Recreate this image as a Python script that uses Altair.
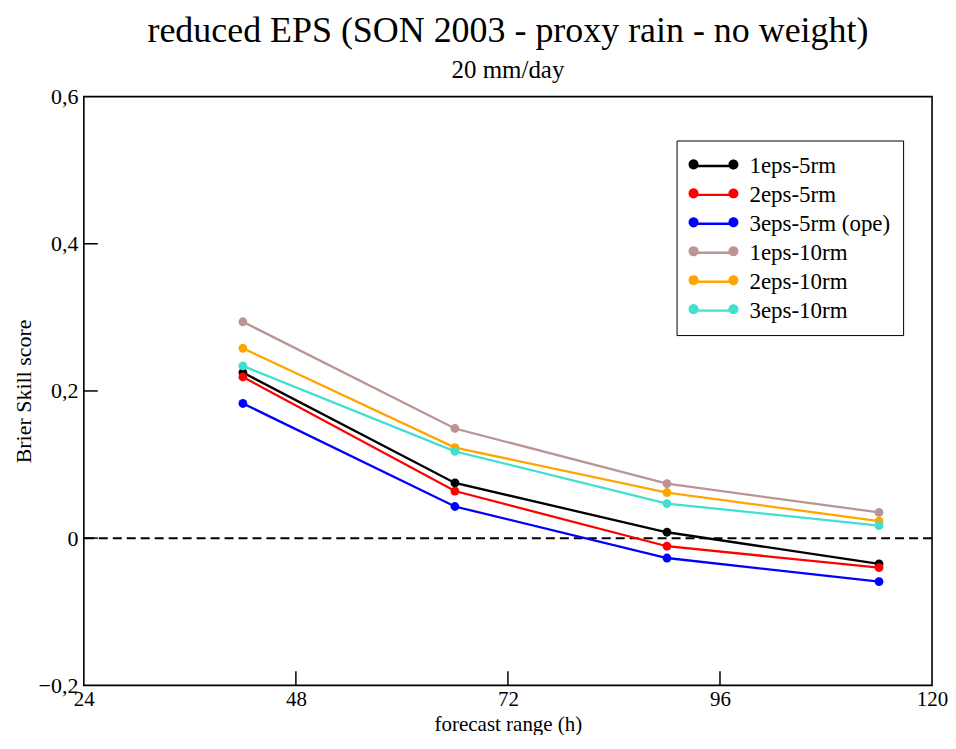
import altair as alt
import pandas as pd

hours = [42, 66, 90, 114]
series_names = ["1eps-5rm", "2eps-5rm", "3eps-5rm (ope)", "1eps-10rm", "2eps-10rm", "3eps-10rm"]
s_1eps_5rm = [0.225, 0.075, 0.008, -0.035]
s_2eps_5rm = [0.219, 0.064, -0.011, -0.040]
s_3eps_5rm = [0.183, 0.043, -0.027, -0.059]
s_1eps_10rm = [0.294, 0.149, 0.074, 0.035]
s_2eps_10rm = [0.258, 0.123, 0.062, 0.023]
s_3eps_10rm = [0.234, 0.118, 0.047, 0.017]
colors = ["#000000", "#ff0000", "#0000ff", "#bc9494", "#ffa500", "#40e0d0"]
x_ticks = [24, 48, 72, 96, 120]
y_ticks = [-0.2, 0, 0.2, 0.4, 0.6]
zero_line = [0.0]

# keys for the marker legend (kept distinct so it is not merged with the line legend)
marker_keys = ["m" + str(i) for i in range(len(series_names))]

all_series = [s_1eps_5rm, s_2eps_5rm, s_3eps_5rm, s_1eps_10rm, s_2eps_10rm, s_3eps_10rm]
rows = []
for name, key, vals in zip(series_names, marker_keys, all_series):
    for h, v in zip(hours, vals):
        rows.append({"h": h, "bss": v, "series": name, "marker": key})
df = pd.DataFrame(rows)

W, H = 850, 590
FONT = "Liberation Serif"
FS = 22
FSX = 21
TICK = 14

xs = alt.Scale(domain=[24, 120], nice=False, zero=False)
ys = alt.Scale(domain=[-0.2, 0.6], nice=False, zero=False)

line_path = "M-0.5833,0L2.75,0"
dots_path = ("M-1,0A0.4167,0.4167,0,1,0,-0.1667,0A0.4167,0.4167,0,1,0,-1,0Z"
             "M2.3333,0A0.4167,0.4167,0,1,0,3.1667,0A0.4167,0.4167,0,1,0,2.3333,0Z")

common = dict(title=None, orient="none", legendX=594, legendY=44,
              symbolSize=576, labelOffset=34, labelFont=FONT, labelFontSize=23,
              labelColor="black", padding=12, labelLimit=300,
              symbolOpacity=1)

stroke_legend = alt.Legend(symbolType=line_path, symbolStrokeWidth=2.4,
                           strokeColor="black", zindex=1, rowPadding=3, **common)
fill_legend = alt.Legend(symbolType=dots_path, symbolStrokeWidth=0,
                         labelExpr="''", zindex=2, rowPadding=5, **common)

x_enc = alt.X("h:Q", scale=xs,
              axis=alt.Axis(values=x_ticks, title="forecast range (h)", ticks=False,
                            domain=False, grid=False, labelFont=FONT, labelFontSize=FSX,
                            titleFont=FONT, titleFontSize=FSX, titleFontWeight="normal",
                            labelColor="black", titleColor="black", labelPadding=3,
                            titlePadding=4, labelFlush=False))
y_enc = alt.Y("bss:Q", scale=ys,
              axis=alt.Axis(values=y_ticks, title="Brier Skill score", ticks=False,
                            domain=False, grid=False, labelFont=FONT, labelFontSize=FS,
                            titleFont=FONT, titleFontSize=FS, titleFontWeight="normal",
                            labelColor="black", titleColor="black", labelPadding=6,
                            titlePadding=3, labelFlush=False,
                            labelExpr="datum.value == 0 ? '0' : replace(format(datum.value, '.1f'), '.', ',')"))

base = alt.Chart(df)
lines = base.mark_line(strokeWidth=2.3).encode(
    x=x_enc, y=y_enc,
    stroke=alt.Stroke("series:N", sort=series_names,
                      scale=alt.Scale(domain=series_names, range=colors), legend=stroke_legend))
points = base.mark_circle(size=78, opacity=1).encode(
    x="h:Q", y="bss:Q",
    fill=alt.Fill("marker:N", sort=marker_keys,
                  scale=alt.Scale(domain=marker_keys, range=colors), legend=fill_legend))

zero = alt.Chart(pd.DataFrame({"z": zero_line})).mark_rule(
    color="black", strokeWidth=2, strokeDash=[9, 5]).encode(y=alt.Y("z:Q", scale=ys))

inner_y = [v for v in y_ticks if -0.2 < v < 0.6]
inner_x = [v for v in x_ticks if 24 < v < 120]
yt = alt.Chart(pd.DataFrame({"t": inner_y})).mark_tick(
    orient="horizontal", color="black", thickness=1.5, size=TICK, opacity=1).encode(
    y=alt.Y("t:Q", scale=ys), x=alt.value(TICK / 2))
xt = alt.Chart(pd.DataFrame({"t": inner_x})).mark_tick(
    orient="vertical", color="black", thickness=1.5, size=TICK, opacity=1).encode(
    x=alt.X("t:Q", scale=xs), y=alt.value(H - TICK / 2))

chart = alt.layer(zero, yt, xt, lines, points).properties(
    width=W, height=H,
    padding={"left": 4, "top": 4, "right": 0, "bottom": 0},
    background="white",
    title=alt.TitleParams(
        text="reduced EPS (SON 2003 - proxy rain - no weight)",
        subtitle="20 mm/day",
        font=FONT, fontSize=36, fontWeight="normal", color="black",
        subtitleFont=FONT, subtitleFontSize=25, subtitleColor="black",
        subtitlePadding=8, offset=2, anchor="middle",
    ),
).configure_view(stroke="black", strokeWidth=1.6)

chart.save("out.html", embed_options={"renderer": "svg", "actions": False})
